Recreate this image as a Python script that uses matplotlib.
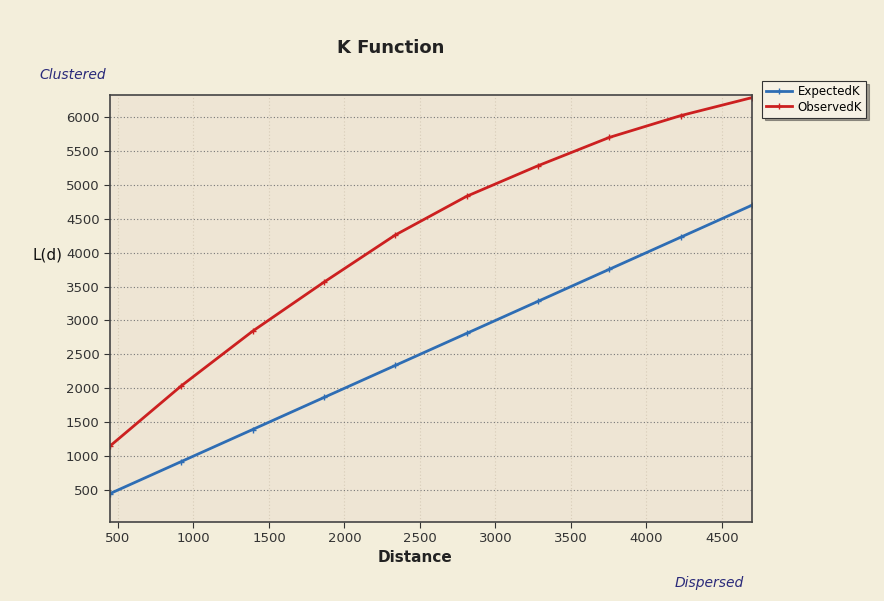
import matplotlib
matplotlib.use("Agg")
import matplotlib.pyplot as plt

# distances (10 evenly spaced bands)
distance = [447, 919, 1392, 1864, 2337, 2809, 3281, 3754, 4226, 4699]
expected_k = [447, 919, 1392, 1864, 2337, 2809, 3281, 3754, 4226, 4699]
observed_k = [1148, 2035, 2842, 3564, 4260, 4830, 5280, 5698, 6019, 6285]
yticks = [500, 1000, 1500, 2000, 2500, 3000, 3500, 4000, 4500, 5000, 5500, 6000]
xticks = [500, 1000, 1500, 2000, 2500, 3000, 3500, 4000, 4500]

fig = plt.figure(figsize=(8.84, 6.01), dpi=100, facecolor="#F3EEDB")
ax = fig.add_axes([0.1244, 0.1314, 0.7263, 0.7106])
ax.set_facecolor("#EEE5D4")

ax.plot(distance, expected_k, color="#2E6DB4", lw=2, marker="+", ms=5, mew=1, label="ExpectedK")
ax.plot(distance, observed_k, color="#CC2020", lw=2, marker="+", ms=5, mew=1, label="ObservedK")

ax.set_xlim(447, 4699)
ax.set_ylim(28, 6324)
ax.set_xticks(xticks)
ax.set_yticks(yticks)
ax.tick_params(labelsize=9.5, colors="#333333", length=4)
ax.grid(axis="y", color="#777777", ls=(0, (1, 2)), lw=0.8)
ax.grid(axis="x", color="#D8CCB8", ls=(0, (1, 2)), lw=0.8)
for s in ax.spines.values():
    s.set_color("#444444")
    s.set_linewidth(1.2)

fig.text(0.4423, 0.92, "K Function", ha="center", va="center", fontsize=13, fontweight="bold", color="#222222")
fig.text(0.47, 0.073, "Distance", ha="center", va="center", fontsize=11, fontweight="bold", color="#222222")
fig.text(0.054, 0.576, "L(d)", ha="center", va="center", fontsize=11, color="#111111")
fig.text(0.082, 0.875, "Clustered", ha="center", va="center", fontsize=10, style="italic", color="#2A2A7A")
fig.text(0.802, 0.030, "Dispersed", ha="center", va="center", fontsize=10, style="italic", color="#2A2A7A")

leg = fig.legend(loc="upper left", bbox_to_anchor=(0.855, 0.875), fontsize=8.5, frameon=True,
                 fancybox=False, shadow=True, handlelength=2.2, borderpad=0.35, labelspacing=0.2,
                 handletextpad=0.5, edgecolor="#333333", facecolor="#F6F1E4")
leg.get_frame().set_linewidth(0.8)

fig.savefig("out.png", dpi=100, facecolor=fig.get_facecolor())
